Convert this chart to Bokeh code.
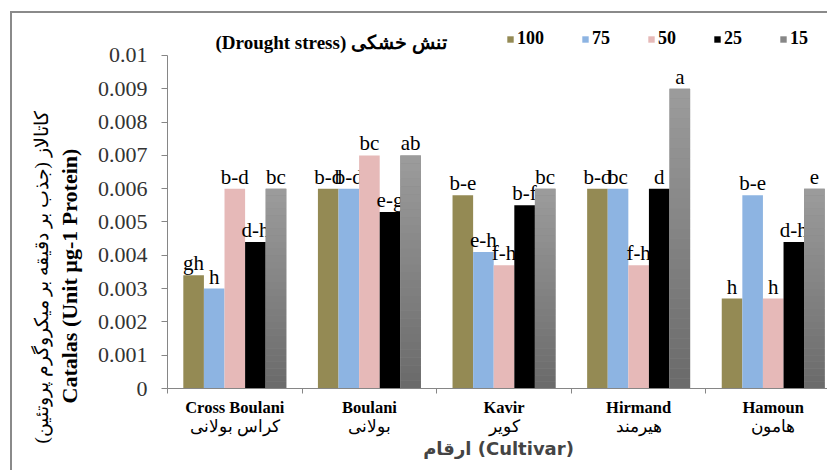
import math
from bokeh.plotting import figure
from bokeh.models import (Range1d, FixedTicker, LinearAxis, Legend, LegendItem, Label,
                          ColumnDataSource, Title)
from bokeh.embed import file_html
from bokeh.resources import INLINE
from bokeh.core.properties import value

# ---------------- data ----------------
cultivars_en = ["Cross Boulani", "Boulani", "Kavir", "Hirmand", "Hamoun"]
cultivars_fa = ["کراس بولانی", "بولانی", "کویر", "هیرمند", "هامون"]
levels = ["100", "75", "50", "25", "15"]

s100 = [0.0034, 0.0060, 0.0058, 0.0060, 0.0027]
s75 = [0.0030, 0.0060, 0.0041, 0.0060, 0.0058]
s50 = [0.0060, 0.0070, 0.0037, 0.0037, 0.0027]
s25 = [0.0044, 0.0053, 0.0055, 0.0060, 0.0044]
s15 = [0.0060, 0.0070, 0.0060, 0.0090, 0.0060]

l100 = ["gh", "b-d", "b-e", "b-d", "h"]
l75 = ["h", "b-d", "e-h", "bc", "b-e"]
l50 = ["b-d", "bc", "f-h", "f-h", "h"]
l25 = ["d-h", "e-g", "b-f", "d", "d-h"]
l15 = ["bc", "ab", "bc", "a", "e"]

y_ticks = [0, 0.001, 0.002, 0.003, 0.004, 0.005, 0.006, 0.007, 0.008, 0.009, 0.01]
y_tick_labels = ["0", "0.001", "0.002", "0.003", "0.004", "0.005", "0.006",
                 "0.007", "0.008", "0.009", "0.01"]

y_title_en = "Catalas (Unit µg-1 Protein)"
y_title_fa = "کاتالاز (جذب بر دقیقه بر میکروگرم پروتئین)"
x_title = "ارقام (Cultivar)"
legend_title = "(Drought stress) تنش خشکی"

series = [s100, s75, s50, s25, s15]
letters = [l100, l75, l50, l25, l15]
colors = ["#948A54", "#8DB4E2", "#E6B9B8", "#000000", "#878787"]

# ---------------- figure ----------------
p = figure(width=817, height=459,
           x_range=Range1d(0, 4.918), y_range=Range1d(0, 0.011261),
           output_backend="svg", toolbar_location=None,
           min_border_left=155, min_border_right=0, min_border_top=0, min_border_bottom=84,
           background_fill_color="white", border_fill_color="white")
p.styles = {"margin-left": "10px", "margin-top": "11px",
            "border-left": "2px solid #8a8a8a", "border-top": "2px solid #8a8a8a"}
p.outline_line_color = None
p.xgrid.visible = False
p.ygrid.visible = False

bw = 0.153
centers = [i + 0.5 for i in range(len(cultivars_en))]

renderers = []
for j, (vals, col) in enumerate(zip(series, colors)):
    xs = [c + (j - 2) * bw for c in centers]
    r = p.vbar(x=xs, top=vals, bottom=0, width=bw, fill_color=col, line_color=None)
    renderers.append(r)
    if j == 4:
        # gradient overlay for the grey series (lighter at top, darker at bottom)
        n = 30
        gx, gb, gt, gc = [], [], [], []
        for x, v in zip(xs, vals):
            for k in range(n):
                f = (k + 0.5) / n
                g = int(round(0x6a + (0x9c - 0x6a) * f))
                gx.append(x)
                gb.append(v * k / n)
                gt.append(v * (k + 1) / n)
                gc.append("#%02x%02x%02x" % (g, g, g))
        p.vbar(x=gx, top=gt, bottom=gb, width=bw, fill_color=gc, line_color=None)
    src = ColumnDataSource(dict(x=xs, y=vals, t=letters[j]))
    p.text(x="x", y="y", text="t", source=src, text_align="center",
           text_baseline="alphabetic", y_offset=-12,
           text_font=value("Liberation Serif"), text_font_size="21px", text_color="#000000")

# ---------------- y axis ----------------
ya = p.yaxis[0]
ya.ticker = FixedTicker(ticks=y_ticks, minor_ticks=[])
ya.bounds = (0, 0.01)
ya.major_label_overrides = {t: s for t, s in zip(y_ticks, y_tick_labels)}
ya.major_tick_out = 6
ya.major_tick_in = 0
ya.minor_tick_line_color = None
ya.axis_line_color = "#868686"
ya.major_tick_line_color = "#868686"
ya.major_label_text_font = "Liberation Serif"
ya.major_label_text_font_size = "22px"
ya.major_label_text_color = "#333333"
ya.major_label_standoff = 14

p.add_layout(Title(text=y_title_en, align="left", offset=-15, vertical_align="bottom",
                   standoff=26, text_font="Liberation Serif", text_font_style="bold",
                   text_font_size="22px", text_color="#000000"), "left")
p.add_layout(Title(text=y_title_fa, align="left", offset=-55, vertical_align="bottom",
                   standoff=-20, text_font="Liberation Serif", text_font_style="normal",
                   text_font_size="19px", text_color="#000000"), "left")

# ---------------- x axes ----------------
xa = p.xaxis[0]
xa.ticker = FixedTicker(ticks=centers, minor_ticks=[0, 1, 2, 3, 4, 5])
xa.major_label_overrides = {c: s for c, s in zip(centers, cultivars_en)}
xa.major_tick_out = 0
xa.major_tick_in = 0
xa.minor_tick_out = 5
xa.minor_tick_in = 0
xa.minor_tick_line_color = "#868686"
xa.axis_line_color = "#868686"
xa.major_label_text_font = "Liberation Serif"
xa.major_label_text_font_style = "bold"
xa.major_label_text_font_size = "16.5px"
xa.major_label_text_color = "#000000"
xa.major_label_standoff = 4

xa2 = LinearAxis(ticker=FixedTicker(ticks=centers, minor_ticks=[]))
xa2.major_label_overrides = {c: s for c, s in zip(centers, cultivars_fa)}
xa2.axis_line_color = None
xa2.major_tick_line_color = None
xa2.minor_tick_line_color = None
xa2.major_label_text_font = "Liberation Serif"
xa2.major_label_text_font_size = "17px"
xa2.major_label_text_color = "#000000"
xa2.major_label_standoff = -9
xa2.axis_label = x_title
xa2.axis_label_text_font = "DejaVu Sans"
xa2.axis_label_text_font_style = "bold"
xa2.axis_label_text_font_size = "18px"
xa2.axis_label_standoff = -1
p.add_layout(xa2, "below")

# ---------------- legend ----------------
p.add_layout(Label(x=48, y=346, x_units="screen", y_units="screen", text=legend_title,
                   text_align="left", text_baseline="middle",
                   text_font="Liberation Serif", text_font_style="bold",
                   text_font_size="19px", text_color="#000000"))
legend = Legend(items=[LegendItem(label=lv, renderers=[r]) for lv, r in zip(levels, renderers)],
                orientation="horizontal", location=(339, 339),
                glyph_width=8, glyph_height=8, label_standoff=3, spacing=37,
                label_width=10, label_height=18, padding=0, margin=0,
                label_text_font="Liberation Serif", label_text_font_style="bold",
                label_text_font_size="18px", label_text_color="#000000",
                border_line_color=None, background_fill_alpha=0)
p.add_layout(legend, "center")

open("out.html", "w").write(file_html(p, INLINE))
